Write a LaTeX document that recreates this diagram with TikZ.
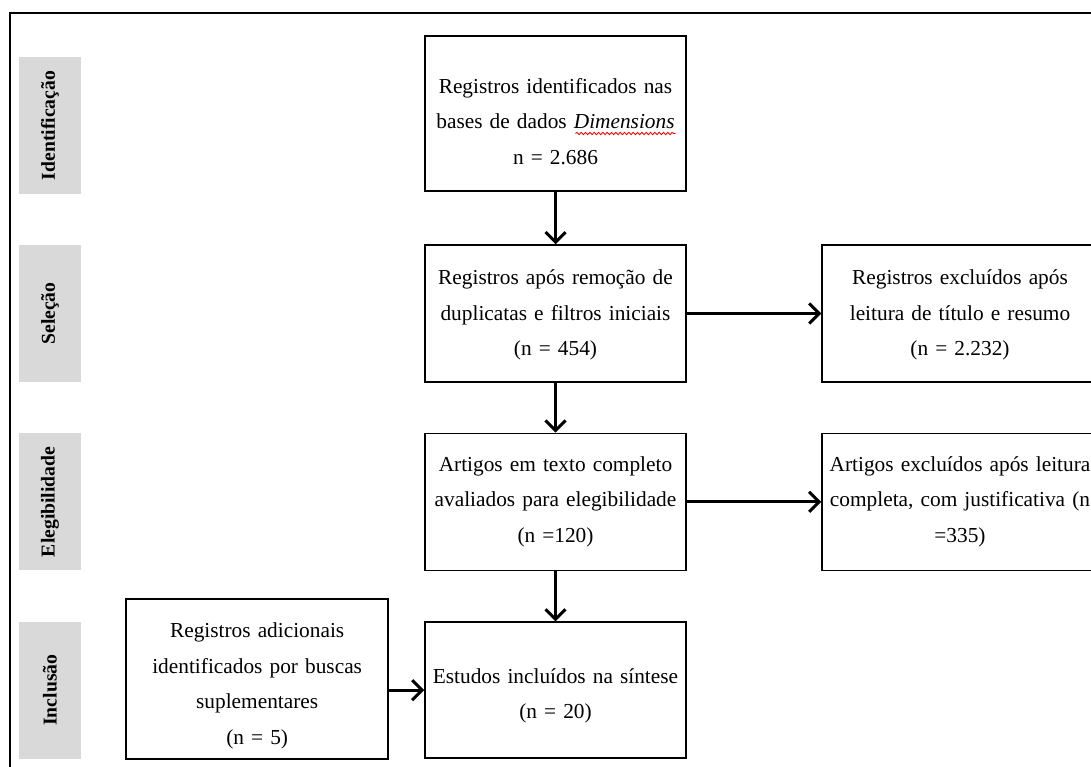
\documentclass[tikz,border=0pt]{standalone}
\usepackage{fontspec}
\setmainfont{Liberation Serif}[WordSpace=0.8]
\usepackage{graphicx}
\usetikzlibrary{arrows.meta,decorations.pathmorphing}

\tikzstyle{etapa} = [rectangle, minimum width=156.6pt, minimum height=82.2pt, text width=152.6pt, inner sep=2pt, align=center, draw=black, line width=0.9pt, font=\fontsize{12.8}{21.3}\selectfont]
\tikzstyle{fase} = [rectangle, minimum width=37.2pt, minimum height=82.2pt, inner sep=0pt, fill=black!15, font=\fontsize{11.8}{14}\selectfont\bfseries]
\tikzstyle{arrow} = [line width=1.8pt, ->, >={Straight Barb[length=6pt,width=12pt]}]
\tikzstyle{ondulado} = [red, line width=0.5pt, decorate, decoration={snake, amplitude=0.7pt, segment length=2.6pt}]

\begin{document}
\begin{tikzpicture}[node distance=113pt]
  \useasboundingbox (0,0) rectangle (654.6pt,-459.6pt);
  % moldura
  \draw [line width=1.4pt] (6pt,-7.8pt) rectangle (680pt,-480pt);

  \node (ident) [etapa, minimum height=93pt] at (333.3pt,-68.1pt) {\rule{0pt}{18.5pt}Registros identificados nas\\ bases de dados \textit{Dimensions}\\ n = 2.686};
  \node (selec) [etapa, below of=ident, yshift=-7pt] {\rule{0pt}{11pt}Registros após remoção de\\ duplicatas e filtros iniciais\\ (n = 454)};
  \node (exclsel) [etapa, right of=selec, xshift=129.7pt, minimum width=165.6pt, text width=161.6pt] {\rule{0pt}{11pt}Registros excluídos após\\ leitura de título e resumo\\ (n = 2.232)};
  \node (eleg) [etapa, below of=selec] {Artigos em texto completo\\ avaliados para elegibilidade\\ (n =120)};
  \node (excleleg) [etapa, right of=eleg, xshift=129.7pt, minimum width=165.6pt, text width=161.6pt] {Artigos excluídos após leitura\\ completa, com justificativa (n\\ =335)};
  \node (incl) [etapa, below of=eleg, minimum height=81.6pt] {\rule{0pt}{16pt}Estudos incluídos na síntese\\ (n = 20)};
  \node (adic) [etapa, left of=incl, xshift=-66pt, yshift=6.6pt, minimum width=157.2pt, minimum height=96pt] {\rule{0pt}{17pt}Registros adicionais\\ identificados por buscas\\ suplementares\\ (n = 5)};

  \node (fident) [fase, left of=ident, xshift=-190.3pt, yshift=-7.2pt] {\rotatebox{90}{Identificação}};
  \node (fselec) [fase, left of=selec, xshift=-190.3pt] {\rotatebox{90}{Seleção}};
  \node (feleg) [fase, left of=eleg, xshift=-190.3pt] {\rotatebox{90}{Elegibilidade}};
  \node (fincl) [fase, left of=incl, xshift=-190.3pt] {\rotatebox{90}{Inclusão}};

  % sublinhado do corretor
  \draw [ondulado] ([shift={(12pt,-12pt)}]ident.center) -- ([shift={(72pt,-12pt)}]ident.center);

  \draw [arrow] (ident) -- (selec);
  \draw [arrow] (selec) -- (exclsel);
  \draw [arrow] (selec) -- (eleg);
  \draw [arrow] (eleg) -- (excleleg);
  \draw [arrow] (eleg) -- (incl);
  \draw [arrow] (adic.east |- incl.west) -- (incl.west);
\end{tikzpicture}
\end{document}
